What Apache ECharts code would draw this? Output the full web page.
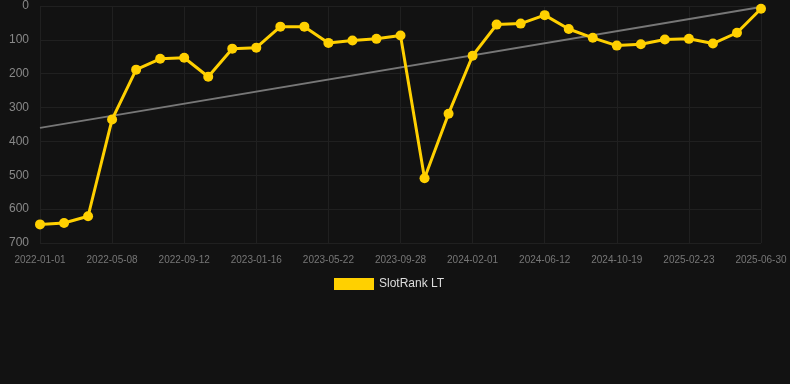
<!DOCTYPE html>
<html>
<head>
<meta charset="utf-8">
<script src="https://cdn.jsdelivr.net/npm/echarts@6/dist/echarts.min.js"></script>
<style>
  html, body { margin: 0; padding: 0; background: #121212; }
  #chart { width: 790px; height: 384px; }
</style>
</head>
<body>
<div id="chart"></div>
<script>
// dates on the x axis (only every third one is labelled)
var dates = [
  "2022-01-01", "2022-02-12", "2022-03-26", "2022-05-08", "2022-06-19", "2022-07-31",
  "2022-09-12", "2022-10-24", "2022-12-05", "2023-01-16", "2023-02-27", "2023-04-10",
  "2023-05-22", "2023-07-03", "2023-08-15", "2023-09-28", "2023-11-08", "2023-12-20",
  "2024-02-01", "2024-03-14", "2024-04-30", "2024-06-12", "2024-07-24", "2024-09-05",
  "2024-10-19", "2024-11-30", "2025-01-11", "2025-02-23", "2025-04-06", "2025-05-18",
  "2025-06-30"
];

// rank values (lower = better, axis is inverted)
var rankLT = [
  645, 641, 621, 335, 188, 156, 153, 209, 126, 123, 61, 61,
  109, 102, 97, 87, 509, 318, 147, 55, 52, 27, 68, 94,
  117, 113, 99, 97, 111, 79, 8
];

// trend line ends
var trendStart = 360;
var trendEnd = 3;

var myChart = echarts.init(document.getElementById("chart"));

myChart.setOption({
  backgroundColor: "#121212",
  animation: false,
  grid: { left: 40, right: 29, top: 6, bottom: 141 },
  legend: {
    top: 273,
    left: 329,
    itemWidth: 40,
    itemHeight: 12,
    itemGap: 10,
    icon: "rect",
    textStyle: { color: "#dddddd", fontSize: 12, fontFamily: "Liberation Sans, Arial, sans-serif" },
    data: ["SlotRank LT"]
  },
  xAxis: {
    type: "category",
    data: dates,
    boundaryGap: false,
    axisLine: { show: false },
    axisTick: { show: false },
    axisLabel: {
      interval: 2,
      color: "#777777",
      fontSize: 10,
      margin: 12,
      fontFamily: "Liberation Sans, Arial, sans-serif"
    },
    splitLine: { show: true, interval: 2, lineStyle: { color: "#202020", width: 1 } }
  },
  yAxis: {
    type: "value",
    inverse: true,
    min: 0,
    max: 700,
    interval: 100,
    axisLine: { show: false },
    axisTick: { show: false },
    axisLabel: {
      color: "#888888",
      fontSize: 12,
      margin: 11,
      fontFamily: "Liberation Sans, Arial, sans-serif"
    },
    splitLine: { lineStyle: { color: "#202020", width: 1 } }
  },
  series: [
    {
      name: "SlotRank LT",
      type: "line",
      data: rankLT,
      color: "#FFD000",
      lineStyle: { width: 3, color: "#FFD000" },
      itemStyle: { color: "#FFD000" },
      symbol: "circle",
      symbolSize: 10,
      z: 3,
      markLine: {
        silent: true,
        symbol: "none",
        label: { show: false },
        lineStyle: { color: "#777777", width: 2, type: "solid" },
        data: [[
          { coord: [dates[0], trendStart] },
          { coord: [dates[dates.length - 1], trendEnd] }
        ]],
        z: 2
      }
    }
  ]
});
</script>
</body>
</html>
